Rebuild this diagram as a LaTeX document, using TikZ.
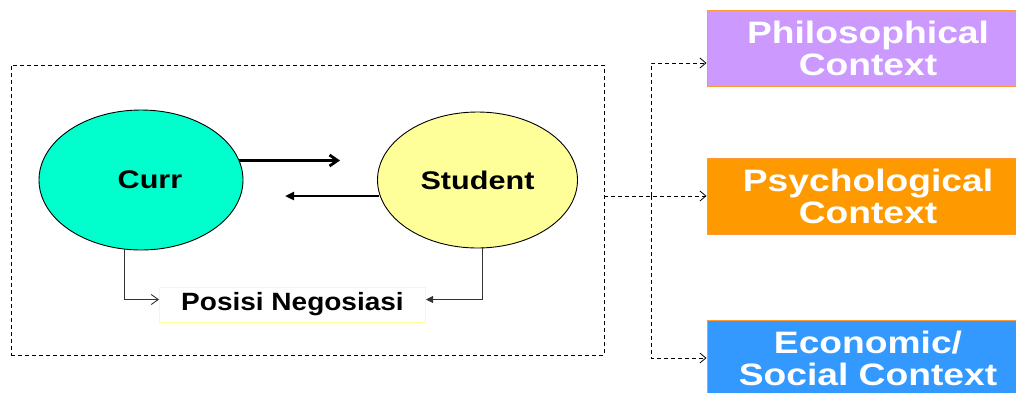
\documentclass[tikz,border=0pt]{standalone}
\usepackage{fontspec}
\newfontfamily\wfont{Liberation Sans}[FakeStretch=1.2]
\newfontfamily\pfont{Liberation Sans}[FakeStretch=1.12]
\usetikzlibrary{arrows.meta,shapes.geometric}
\definecolor{currc}{HTML}{00FFCC}
\definecolor{studc}{HTML}{FFFF99}
\definecolor{philc}{HTML}{CC99FF}
\definecolor{psyc}{HTML}{FF9900}
\definecolor{ecoc}{HTML}{3399FF}
\definecolor{bordc}{HTML}{FF9933}
\begin{document}
\begin{tikzpicture}[x=1pt,y=-1pt,
  ell/.style={ellipse,draw=black,line width=0.9pt,inner sep=0pt,font=\wfont\bfseries\fontsize{25.5}{28}\selectfont},
  ctx/.style={rectangle,draw=bordc,line width=1pt,minimum width=322pt,minimum height=76pt,text=white,align=center,inner sep=0pt,font=\wfont\bfseries\fontsize{31}{32}\selectfont},
  dsh/.style={dash pattern=on 4pt off 3pt,line width=0.8pt},
  thickarr/.style={line width=2.8pt},
  thinl/.style={line width=0.9pt,draw=black!80}
]
\useasboundingbox (0,0) rectangle (1016,392);
% frame
\node[draw,dsh,minimum width=593pt,minimum height=290pt,inner sep=0pt] (frame) at (307.5,210) {};
% ellipses
\node[ell,fill=currc,minimum width=204pt,minimum height=140pt] (curr) at (141,180) {\hspace*{18pt}Curr};
\node[ell,fill=studc,minimum width=200pt,minimum height=136pt] (stu) at (477.5,180) {Student};
% posisi
\node[draw=studc,line width=1pt,fill=white,minimum width=266pt,minimum height=35pt,inner sep=0pt,font=\pfont\bfseries\fontsize{25}{27}\selectfont] (pn) at (292.5,304.5) {Posisi Negosiasi};
% thick arrows
\coordinate (a1) at (340,160.5);
\coordinate (a2) at (285,196);
\draw[thickarr,-{Straight Barb[length=8pt,width=11pt]}] ([yshift=19.5pt]curr.east) ++(-4,0) -- (a1);
\draw[thickarr,-{Triangle[length=9pt,width=8pt]}] ([yshift=-16pt,xshift=2pt]stu.west) -- (a2);
% thin connectors
\draw[thinl,-{Straight Barb[length=7pt,width=10pt]}] ([xshift=-17pt,yshift=1pt]curr.south) |- ([yshift=5pt]pn.west);
\draw[thinl,-{Triangle[length=7pt,width=7pt]}] ([xshift=5pt,yshift=1pt]stu.south) |- ([yshift=5pt]pn.east);
% context boxes
\node[ctx,fill=philc] (phil) at (868,48.5) {Philosophical\\Context};
\node[ctx,fill=psyc] (psy) at (868,196) {Psychological\\Context};
\node[ctx,fill=ecoc] (eco) at (868,358) {Economic/\\Social Context};
% dashed connectors
\coordinate (j) at (651,196);
\draw[dsh,-{Straight Barb[length=6pt,width=10pt]}] ([yshift=14pt]frame.east) -- (psy.west);
\draw[dsh,-{Straight Barb[length=6pt,width=10pt]}] (j) |- ([yshift=-14.5pt]phil.west);
\draw[dsh,-{Straight Barb[length=6pt,width=10pt]}] (j) |- (eco.west);
\end{tikzpicture}
\end{document}
